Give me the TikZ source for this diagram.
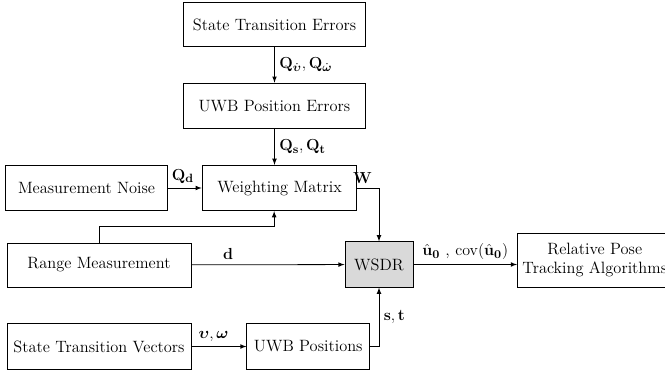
\documentclass[tikz,border=0pt]{standalone}
\usepackage{amsmath, amssymb}
\usepackage{xcolor}
\usepackage{tikz}
\usetikzlibrary{shapes, arrows, positioning, calc}

\begin{document}
\begin{tikzpicture}[
        x=0.75pt, y=-0.75pt,
        >=latex,
        font=\fontsize{12.3}{14.5}\selectfont,
        block/.style={rectangle, draw, line width=0.7pt, minimum height=34pt, inner sep=2pt, align=center},
        solver/.style={block, fill=gray!30},
        link/.style={->, line width=0.6pt}
    ]
        \useasboundingbox (0,0) rectangle (665,372);

        % error models feeding the weights
        \node[block, minimum width=137pt, minimum height=32.5pt] (errors) at (274.5,24.5) {State Transition Errors};
        \node[block, minimum width=137pt, below=27pt of errors] (uwberr) {UWB Position Errors};
        \node[block, minimum width=116pt] (weights) at (279.5,188) {Weighting Matrix};
        \node[block, minimum width=121pt, left=25.5pt of weights] (noise) {Measurement Noise};

        % ranges, solver and output
        \node[block, minimum width=138pt, minimum height=33pt] (ranges) at (99,265) {Range Measurement};
        \node[solver, minimum width=51pt] (wsdr) at (379,264.5) {WSDR};
        \node[block, minimum width=116pt, minimum height=40.5pt, anchor=west] (tracking) at (517,260) {Relative Pose\\Tracking Algorithms};

        % anchor positions from the state
        \node[block, minimum width=138pt] (vectors) at (99,346.5) {State Transition Vectors};
        \node[block, minimum width=92pt, right=41.25pt of vectors] (uwbpos) {UWB Positions};

        \draw[link] (errors) -- node[right] {$\mathbf{Q}_{\dot{\boldsymbol{\upsilon}}}, \mathbf{Q}_{\dot{\boldsymbol{\omega}}}$} (uwberr);
        \draw[link] (uwberr.south) -- node[right] {$\mathbf{Q}_{\mathbf{s}}, \mathbf{Q}_{\mathbf{t}}$} (uwberr.south |- weights.north);
        \draw[link] (noise) -- node[pos=0.45, above] {$\mathbf{Q}_{\mathbf{d}}$} (weights);
        \draw[link] (ranges.north) |- ($(ranges.north)!0.5!(weights.south)$) -| ([xshift=-4]weights.south);
        \draw[link] (weights.east) -| node[pos=0.12, above] {$\mathbf{W}$} (wsdr.north);

        \draw[link] (ranges) -- node[pos=0.24, above] {$\mathbf{d}$} (wsdr);
        \draw[link] (wsdr.east) -- node[above] {$\hat{\mathbf{u}}_{\mathbf{0}}$ , $\mathrm{cov}(\hat{\mathbf{u}}_{\mathbf{0}})$} (wsdr.east -| tracking.west);

        \draw[link] (vectors) -- node[pos=0.4, above] {$\boldsymbol{\upsilon}, \boldsymbol{\omega}$} (uwbpos);
        \draw[link] (uwbpos.east) -| node[pos=0.75, right] {$\mathbf{s}, \mathbf{t}$} (wsdr.south);

    \end{tikzpicture}
\end{document}
